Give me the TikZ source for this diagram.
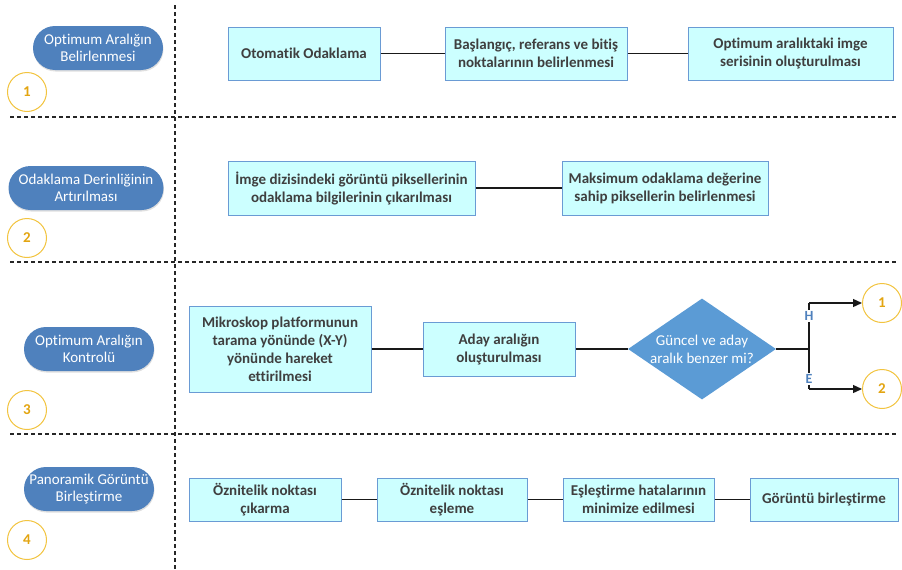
\documentclass[tikz,border=0pt]{standalone}
\usepackage{fontspec}
\setmainfont{Carlito}[Ligatures=CommonOff]
\usepackage{xcolor}
\usetikzlibrary{shapes.geometric,arrows.meta,shadows}

\definecolor{pillblue}{HTML}{4F81BD}
\definecolor{decblue}{HTML}{5B9BD5}
\definecolor{boxfill}{HTML}{CCFFFF}
\definecolor{boxline}{HTML}{6A9BD4}
\definecolor{boxtext}{HTML}{3F3F3F}
\definecolor{numline}{HTML}{F2C440}
\definecolor{numtext}{HTML}{E3A511}
\definecolor{branchtext}{HTML}{4F81BD}

\tikzset{
  lane/.style={draw=black!85, line width=1.3pt, dash pattern=on 4pt off 3pt},
  link/.style={draw=black!90, line width=1.3pt},
  box/.style={draw=boxline, fill=boxfill, line width=1pt, text=boxtext, align=center,
    inner sep=0pt, font=\bfseries\fontsize{15}{18}\selectfont},
  pill/.style={fill=pillblue, rounded corners=22pt, text=white, align=center,
    minimum height=44, inner sep=0pt, font=\fontsize{15}{17.5}\selectfont,
    drop shadow={shadow xshift=0.5pt, shadow yshift=-1.5pt, opacity=0.25}},
  num/.style={circle, draw=numline, fill=white, line width=1pt, minimum size=39,
    inner sep=0pt, text=numtext, font=\bfseries\fontsize{15}{17}\selectfont},
  decision/.style={diamond, fill=decblue, text=white, align=center, aspect=1.47,
    inner sep=0pt, minimum width=148, minimum height=101,
    font=\fontsize{15}{18}\selectfont},
  branch/.style={fill=white, inner sep=1pt, text=branchtext,
    font=\bfseries\fontsize{14}{16}\selectfont},
}

\begin{document}
\begin{tikzpicture}[x=1pt,y=-1pt]
    \useasboundingbox (0,0) rectangle (902,570);

    % swimlane borders
    \draw [lane] (175,5) -- (175,570);
    \foreach \y in {117,262,434}
        \draw [lane] (10,\y) -- (897,\y);

    % lane titles and numbers
    \node [pill, minimum width=130] (p1) at (98,48) {Optimum Aralığın\\Belirlenmesi};
    \node [pill, minimum width=155] (p2) at (86,188) {Odaklama Derinliğinin\\Artırılması};
    \node [pill, minimum width=130] (p3) at (89,349) {Optimum Aralığın\\Kontrolü};
    \node [pill, minimum width=130] (p4) at (89,489) {Panoramik Görüntü\\Birleştirme};
    \node [num] (n1) at (27,92) {1};
    \node [num] (n2) at (27,238) {2};
    \node [num] (n3) at (27,410) {3};
    \node [num] (n4) at (27,540) {4};

    % lane 1
    \node [box, minimum width=152, minimum height=53] (a1) at (304,53.5) {Otomatik Odaklama};
    \node [box, minimum width=182, minimum height=53] (a2) at (536,53.5) {Başlangıç, referans ve bitiş\\noktalarının belirlenmesi};
    \node [box, minimum width=205, minimum height=53] (a3) at (790.5,53.5) {Optimum aralıktaki imge\\serisinin oluşturulması};
    \draw [link] (a1) -- (a2);
    \draw [link] (a2) -- (a3);

    % lane 2
    \node [box, minimum width=247, minimum height=54] (b1) at (351.5,188) {İmge dizisindeki görüntü piksellerinin\\odaklama bilgilerinin çıkarılması};
    \node [box, minimum width=206, minimum height=54] (b2) at (665,188) {Maksimum odaklama değerine\\sahip piksellerin belirlenmesi};
    \draw [link] (b1) -- (b2);

    % lane 3
    \node [box, minimum width=182, minimum height=86] (c1) at (280,349) {Mikroskop platformunun\\tarama yönünde (X-Y)\\yönünde hareket\\ettirilmesi};
    \node [box, minimum width=152, minimum height=54] (c2) at (499,349) {Aday aralığın\\oluşturulması};
    \node [decision] (dec) at (702,349) {Güncel ve aday\\aralık benzer mi?};
    \node [num] (r1) at (882,303) {1};
    \node [num] (r2) at (882,389) {2};
    \coordinate (fork) at (809,349);
    \coordinate (forkup) at (809,303);
    \coordinate (forkdown) at (809,389);
    \draw [link] (c1) -- (c2);
    \draw [link] (c2) -- (dec);
    \draw [link] (dec.east) -- (fork);
    \draw [link] (forkup) -- (forkdown);
    \draw [link, -{Triangle[length=9pt,width=8pt]}] (forkup) -- (r1.west);
    \draw [link, -{Triangle[length=9pt,width=8pt]}] (forkdown) -- (r2.west);
    \node [branch] (yes) at (809,316) {H};
    \node [branch] (no) at (809,379) {E};

    % lane 4
    \node [box, minimum width=152, minimum height=43] (d1) at (265,499.5) {Öznitelik noktası\\çıkarma};
    \node [box, minimum width=150, minimum height=43] (d2) at (452,499.5) {Öznitelik noktası\\eşleme};
    \node [box, minimum width=151, minimum height=43] (d3) at (638.5,499.5) {Eşleştirme hatalarının\\minimize edilmesi};
    \node [box, minimum width=148, minimum height=43] (d4) at (824,499.5) {Görüntü birleştirme};
    \draw [link] (d1) -- (d2);
    \draw [link] (d2) -- (d3);
    \draw [link] (d3) -- (d4);
\end{tikzpicture}
\end{document}
